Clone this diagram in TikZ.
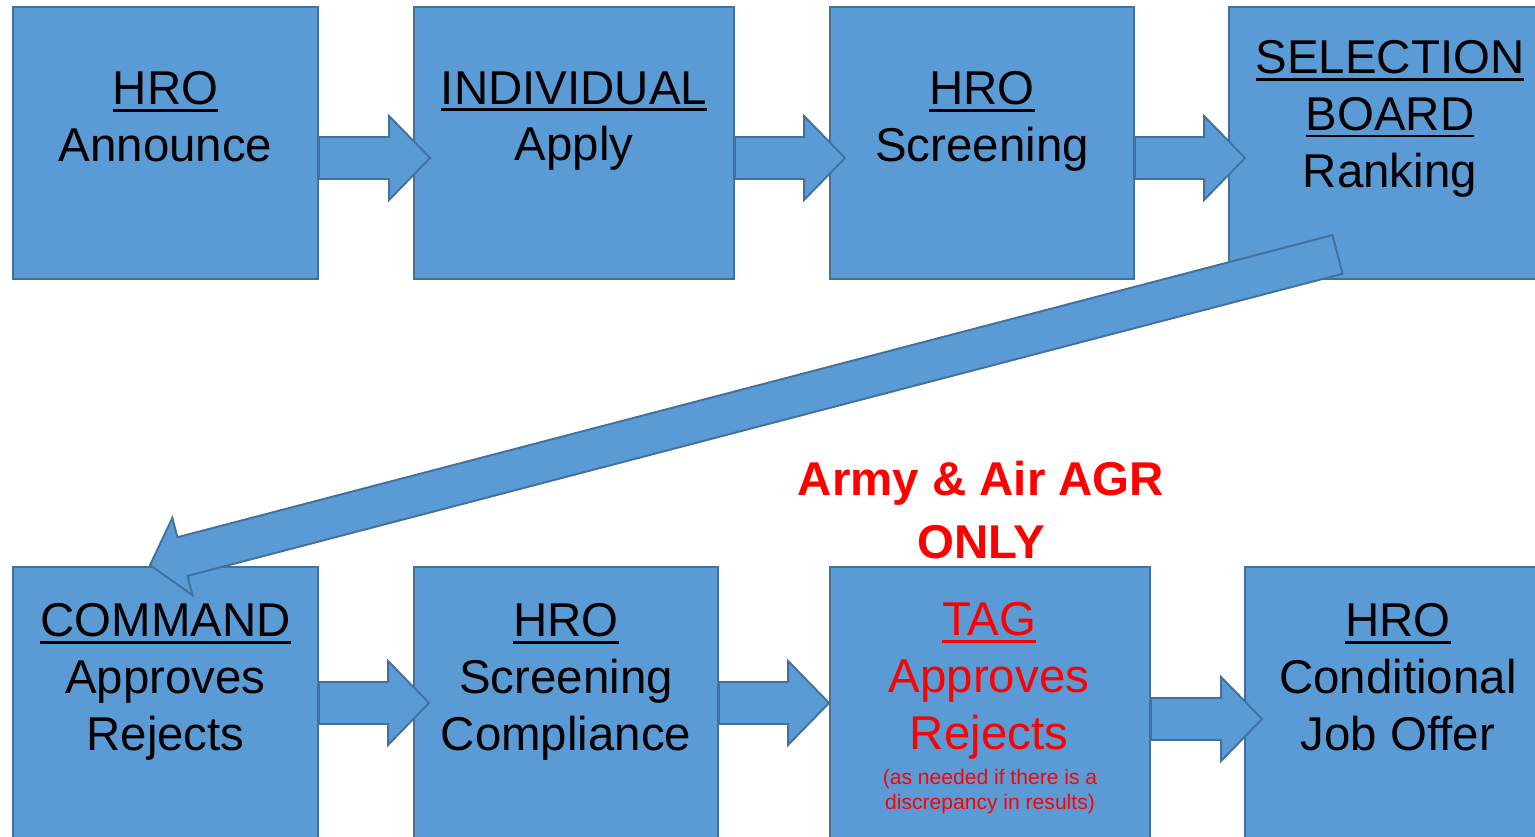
\documentclass[tikz,border=0pt]{standalone}
\usepackage{fontspec}
\setmainfont{Liberation Sans}
\usetikzlibrary{calc}
\definecolor{boxblue}{HTML}{5B9BD5}
\definecolor{boxedge}{HTML}{41719C}
\definecolor{alertred}{HTML}{FF0000}
\newcommand{\ulword}[1]{\setbox0\hbox{#1}\rlap{\rule[-4.1pt]{\wd0}{1.6pt}}\box0}
\newcommand{\flowarrow}[4]{%
  \path (#1.east |- 0,#3) coordinate (fa-tail) ($(#2.west |- 0,#3)+(#4,0)$) coordinate (fa-tip);
  \draw[blockarrow] ($(fa-tail)+(0,-21)$) -- ($(fa-tip)+(-41,-21)$) -- ($(fa-tip)+(-41,-42)$) -- (fa-tip)
    -- ($(fa-tip)+(-41,42)$) -- ($(fa-tip)+(-41,21)$) -- ($(fa-tail)+(0,21)$) -- cycle;
}

\begin{document}
\begin{tikzpicture}[x=0.02cm, y=-0.02cm,
  stage/.style={draw=boxedge, fill=boxblue, line width=1.1pt, minimum height=5.44cm, inner sep=0pt},
  blockarrow/.style={draw=boxedge, fill=boxblue, line width=1.1pt, line join=miter},
  boxtext/.style={anchor=north, inner sep=0pt, align=center, font=\fontsize{27}{32.3}\selectfont},
  tagtext/.style={boxtext, text=alertred}]
\useasboundingbox (0,0) rectangle (1535,837);
\clip (0,0) rectangle (1535,837);
\node[stage, minimum width=6.10cm] (announce) at (165.5,143) {};
\node[stage, minimum width=6.40cm] (apply) at (574,143) {};
\node[stage, minimum width=6.08cm] (screen) at (982,143) {};
\node[stage, minimum width=6.44cm] (rank) at (1390,143) {};
\node[stage, minimum width=6.10cm] (command) at (165.5,703) {};
\node[stage, minimum width=6.08cm] (compliance) at (566,703) {};
\node[stage, minimum width=6.40cm] (tag) at (990,703) {};
\node[stage, minimum width=6.12cm] (offer) at (1398,703) {};

\flowarrow{announce}{apply}{158}{17}
\flowarrow{apply}{screen}{158}{16}
\flowarrow{screen}{rank}{158}{17}
\flowarrow{command}{compliance}{703}{16}
\flowarrow{compliance}{tag}{703}{0}
\flowarrow{tag}{offer}{719}{18}

\coordinate (bigtail) at ($(rank.south)+(-52.5,-25.5)$);
\coordinate (bigtip) at ($(command.north west)+(138,-1)$);
\coordinate (bighead) at ($(bigtip)!0.67cm!(bigtail)$);
\draw[blockarrow] ($(bigtail)!0.4cm!-90:(bigtip)$) -- ($(bighead)!0.4cm!90:(bigtail)$)
  -- ($(bighead)!0.8cm!90:(bigtail)$) -- (bigtip) -- ($(bighead)!0.8cm!-90:(bigtail)$)
  -- ($(bighead)!0.4cm!-90:(bigtail)$) -- ($(bigtail)!0.4cm!90:(bigtip)$) -- cycle;

\node[boxtext] (announce-t) at ($(announce.north)+(0,65)$) {\ulword{HRO}\\Announce};
\node[boxtext] (apply-t) at ($(apply.north)+(0,65)$) {\ulword{INDIVIDUAL}\\Apply};
\node[boxtext] (screen-t) at ($(screen.north)+(0,65)$) {\ulword{HRO}\\Screening};
\node[boxtext] (rank-t) at ($(rank.north)+(0,34)$) {\ulword{SELECTION}\\\ulword{BOARD}\\Ranking};
\node[boxtext] (command-t) at ($(command.north)+(0,37)$) {\ulword{COMMAND}\\Approves\\Rejects};
\node[boxtext] (compliance-t) at ($(compliance.north)+(0,37)$) {\ulword{HRO}\\Screening\\Compliance};
\node[tagtext] (tag-t) at ($(tag.north)+(-1,36)$) {\ulword{TAG}\\Approves\\Rejects};
\node[boxtext] (offer-t) at ($(offer.north)+(0,37)$) {\ulword{HRO}\\Conditional\\Job Offer};
\node[anchor=north, inner sep=0pt, align=center, text=alertred, font=\fontsize{12}{14.2}\selectfont]
  (tag-note) at ($(tag.north)+(0,203)$) {(as needed if there is a\\discrepancy in results)};
\node[anchor=south, inner sep=0pt, align=center, text=alertred, font=\bfseries\fontsize{27}{35.7}\selectfont]
  (agr) at ($(tag.north)+(-9,-7)$) {Army \& Air AGR\\ONLY};
\end{tikzpicture}
\end{document}
